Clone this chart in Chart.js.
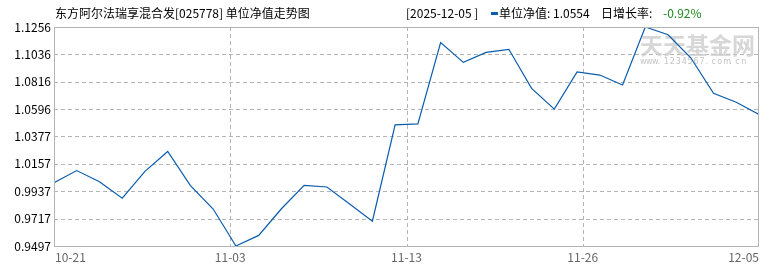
<!DOCTYPE html>
<html>
<head>
<meta charset="utf-8">
<script src="https://cdn.jsdelivr.net/npm/chart.js@4.4.0/dist/chart.umd.min.js"></script>
<style>
html,body{margin:0;padding:0;background:#fff;}
#wrap{width:770px;height:270px;position:relative;}
</style>
</head>
<body>
<div id="wrap"><canvas id="c" width="770" height="270"></canvas></div>
<script>
const titleText = '东方阿尔法瑞享混合发[025778] 单位净值走势图';
const headerDate = '[2025-12-05]';
const seriesName = '单位净值';
const growthLabel = '日增长率';
const growthText = '-0.92%';
const xTickLabels = ['10-21', '11-03', '11-13', '11-26', '12-05'];
const yTickLabels = ['0.9497', '0.9717', '0.9937', '1.0157', '1.0377', '1.0596', '1.0816', '1.1036', '1.1256'];
const navValues = [
  1.0005, 1.0103, 1.0013, 0.9881, 1.0097, 1.0256, 0.9982, 0.9794,
  0.9497, 0.9582, 0.9796, 0.9984, 0.9971, 0.9835, 0.9696, 1.0470,
  1.0478, 1.1131, 1.0972, 1.1052, 1.1077, 1.0763, 1.0596, 1.0896,
  1.0870, 1.0790, 1.1256, 1.1194, 1.1009, 1.0724, 1.0652, 1.0554
];

const lineColor = '#0a5cad';
const gridColor = '#b4b4b4';
const fontCJK = '"Noto Sans CJK SC", "Noto Sans", sans-serif';
const lastIdx = navValues.length - 1;
const xTickValues = xTickLabels.map((_, i) => i * lastIdx / (xTickLabels.length - 1));
const yTickValues = yTickLabels.map(Number);

const decorPlugin = {
  id: 'decor',
  beforeDatasetsDraw(chart) {
    const ctx = chart.ctx;
    const a = chart.chartArea;
    ctx.save();
    // dashed grid
    ctx.strokeStyle = gridColor;
    ctx.lineWidth = 1;
    ctx.setLineDash([4, 3]);
    const xs = chart.scales.x, ys = chart.scales.y;
    xTickValues.slice(1, -1).forEach(v => {
      const px = Math.round(xs.getPixelForValue(v)) + 0.5;
      ctx.beginPath(); ctx.moveTo(px, a.top); ctx.lineTo(px, a.bottom); ctx.stroke();
    });
    yTickValues.slice(1, -1).forEach(v => {
      const py = Math.round(ys.getPixelForValue(v)) + 0.5;
      ctx.beginPath(); ctx.moveTo(a.left, py); ctx.lineTo(a.right, py); ctx.stroke();
    });
    ctx.setLineDash([]);
    // watermark
    ctx.fillStyle = 'rgba(205,205,205,0.8)';
    ctx.font = 'bold 23px ' + fontCJK;
    ctx.textBaseline = 'middle';
    ctx.textAlign = 'left';
    ctx.fillText('天天基金网', a.right - 119, 45);
    ctx.font = '8px "DejaVu Sans", sans-serif';
    ctx.fillStyle = 'rgba(185,185,185,0.85)';
    const wm = 'www.1234567.com.cn';
    let x = a.right - 119;
    for (const ch of wm) { ctx.fillText(ch, x, 62); x += 5.95; }
    ctx.restore();
  },
  afterDraw(chart) {
    const ctx = chart.ctx;
    const a = chart.chartArea;
    ctx.save();
    // box
    ctx.strokeStyle = gridColor;
    ctx.lineWidth = 1;
    ctx.setLineDash([]);
    ctx.strokeRect(Math.round(a.left) + 0.5, Math.round(a.top) + 0.5,
      Math.round(a.right - a.left) - 1, Math.round(a.bottom - a.top));
    // title
    ctx.fillStyle = '#000';
    ctx.font = '12px ' + fontCJK;
    ctx.textBaseline = 'middle';
    ctx.textAlign = 'left';
    ctx.fillText(titleText, 55, 13);
    // header right
    let x = 406;
    ctx.fillText(headerDate.replace(']', ' ]'), x, 13);
    x = 491;
    ctx.fillStyle = lineColor;
    ctx.fillRect(x, 12, 7, 3);
    x += 8;
    ctx.fillStyle = '#000';
    const lastVal = navValues[lastIdx].toFixed(4);
    ctx.fillText(seriesName + ': ' + lastVal, x, 13);
    ctx.fillText(growthLabel + ': ', 601, 13);
    ctx.fillStyle = '#1d8a1d';
    ctx.fillText(growthText, 663, 13);
    // x labels
    const xs = chart.scales.x;
    ctx.fillStyle = '#666';
    ctx.font = '12px ' + fontCJK;
    xTickLabels.forEach((lab, i) => {
      const px = xs.getPixelForValue(xTickValues[i]);
      ctx.textAlign = i === 0 ? 'left' : (i === xTickLabels.length - 1 ? 'right' : 'center');
      ctx.fillText(lab, i === 0 ? px + 1 : px, 257);
    });
    ctx.restore();
  }
};

new Chart(document.getElementById('c'), {
  type: 'line',
  data: {
    datasets: [{
      label: seriesName,
      data: navValues.map((v, i) => ({ x: i, y: v })),
      borderColor: lineColor,
      borderWidth: 1.2,
      pointRadius: 0,
      tension: 0,
      fill: false
    }]
  },
  options: {
    responsive: false,
    animation: false,
    devicePixelRatio: 1,
    layout: { padding: { top: 27, right: 11, left: 0, bottom: 0 } },
    plugins: { legend: { display: false }, tooltip: { enabled: false } },
    scales: {
      x: {
        type: 'linear',
        min: 0,
        max: lastIdx,
        afterBuildTicks(scale) { scale.ticks = xTickValues.map(v => ({ value: v })); },
        afterFit(scale) { scale.height = 24; },
        ticks: { display: false },
        grid: { display: false },
        border: { display: false }
      },
      y: {
        type: 'linear',
        min: yTickValues[0],
        max: yTickValues[yTickValues.length - 1],
        afterBuildTicks(scale) { scale.ticks = yTickValues.map(v => ({ value: v })); },
        afterFit(scale) { scale.width = 54; },
        ticks: {
          color: '#000',
          padding: 3,
          font: { family: fontCJK, size: 12 },
          callback(value, index) { return yTickLabels[index]; }
        },
        grid: { display: false, drawTicks: false },
        border: { display: false }
      }
    }
  },
  plugins: [decorPlugin]
});
</script>
</body>
</html>
